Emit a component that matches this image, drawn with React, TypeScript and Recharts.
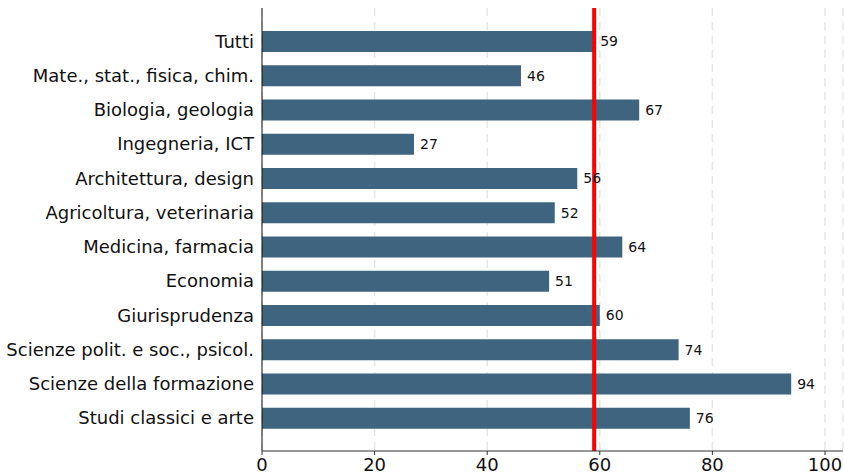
import { BarChart, Bar, XAxis, YAxis, CartesianGrid, ReferenceLine, LabelList } from 'recharts'

const categories = [
  'Tutti',
  'Mate., stat., fisica, chim.',
  'Biologia, geologia',
  'Ingegneria, ICT',
  'Architettura, design',
  'Agricoltura, veterinaria',
  'Medicina, farmacia',
  'Economia',
  'Giurisprudenza',
  'Scienze polit. e soc., psicol.',
  'Scienze della formazione',
  'Studi classici e arte',
]

const values = [59, 46, 67, 27, 56, 52, 64, 51, 60, 74, 94, 76]

const xTicks = [0, 20, 40, 60, 80, 100]

const average = 59

const data = categories.map((name, i) => ({ name, value: values[i] }))

const font = '"DejaVu Sans", sans-serif'

export default function App() {
  return (
    <div style={{ position: 'absolute', left: 0, top: 0, width: 844, height: 476, background: '#fff' }}>
      <BarChart
        width={844}
        height={476}
        data={data}
        layout="vertical"
        margin={{ top: 8, right: 1, bottom: 0, left: 0 }}
      >
        <CartesianGrid horizontal={false} stroke="#e6e6e6" strokeWidth={1.5} strokeDasharray="8 6" />
        <XAxis
          type="number"
          domain={[0, 103.2]}
          ticks={xTicks}
          allowDataOverflow
          height={25}
          tickSize={4}
          tickMargin={3}
          stroke="#333"
          tick={{ fill: '#111', fontSize: 18, fontFamily: font }}
        />
        <YAxis
          type="category"
          dataKey="name"
          width={262}
          padding={{ top: 16, bottom: 16 }}
          tickLine={false}
          tickMargin={2}
          stroke="#111"
          interval={0}
          tick={{ fill: '#111', fontSize: 18, fontFamily: font }}
        />
        <Bar dataKey="value" fill="#3f6480" barSize={21} isAnimationActive={false}>
          <LabelList
            dataKey="value"
            position="right"
            offset={6}
            style={{ fill: '#111', fontSize: 14, fontFamily: font }}
          />
        </Bar>
        <ReferenceLine x={average} stroke="#ff0000" strokeWidth={4} />
      </BarChart>
    </div>
  )
}
